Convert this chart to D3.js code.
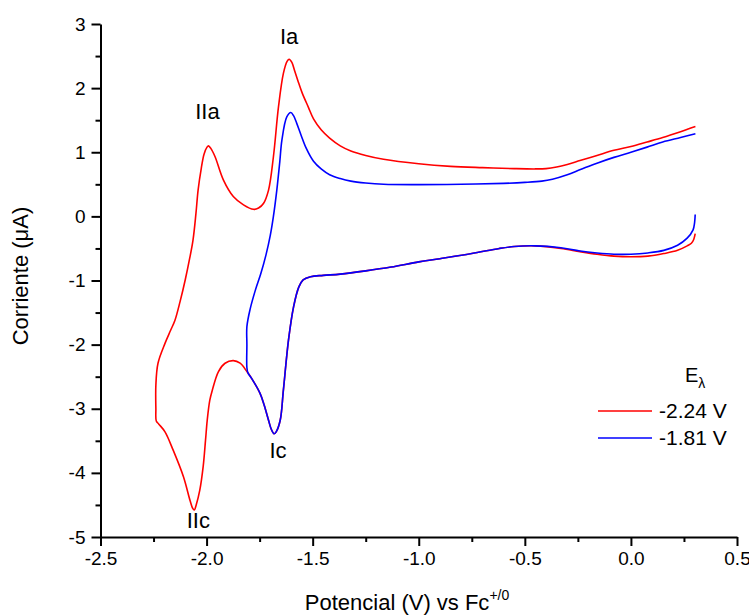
<!DOCTYPE html>
<html>
<head>
<meta charset="utf-8">
<script src="https://cdn.jsdelivr.net/npm/d3@7"></script>
<style>
  html, body { margin: 0; padding: 0; background: #fff; }
  svg { display: block; font-family: "Liberation Sans", Arial, sans-serif; }
</style>
</head>
<body>
<svg id="chart" width="749" height="615"></svg>
<script>
// Red curve, switching potential -2.24 V  [E (V vs Fc+/0), I (µA)]
const redE = [0.303,0.296,0.285,0.265,0.22,0.155,0.08,0.0,-0.08,-0.16,-0.24,-0.33,-0.45,-0.55,-0.62,-0.75,-0.9,-1.0,-1.13,-1.25,-1.37,-1.45,-1.51,-1.545,-1.565,-1.59,-1.614,-1.638,-1.653,-1.672,-1.682,-1.695,-1.708,-1.728,-1.748,-1.787,-1.81,-1.842,-1.874,-1.913,-1.944,-1.973,-1.985,-1.997,-2.005,-2.016,-2.032,-2.049,-2.058,-2.066,-2.078,-2.109,-2.157,-2.196,-2.225,-2.237,-2.239,-2.239,-2.229,-2.196,-2.17,-2.149,-2.125,-2.10,-2.08,-2.064,-2.05,-2.040,-2.025,-2.012,-1.998,-1.991,-1.98,-1.96,-1.921,-1.874,-1.826,-1.779,-1.755,-1.732,-1.708,-1.685,-1.661,-1.638,-1.62,-1.611,-1.598,-1.585,-1.57,-1.55,-1.52,-1.496,-1.46,-1.42,-1.37,-1.32,-1.25,-1.166,-1.0,-0.85,-0.7,-0.55,-0.45,-0.40,-0.35,-0.30,-0.24,-0.16,-0.08,0.0,0.076,0.15,0.234,0.304];
const redI = [-0.27,-0.36,-0.42,-0.46,-0.53,-0.58,-0.62,-0.63,-0.62,-0.59,-0.55,-0.50,-0.46,-0.47,-0.50,-0.58,-0.66,-0.71,-0.79,-0.85,-0.90,-0.92,-0.94,-0.99,-1.10,-1.41,-1.93,-2.71,-3.18,-3.36,-3.39,-3.32,-3.18,-2.95,-2.76,-2.53,-2.42,-2.29,-2.25,-2.29,-2.42,-2.71,-2.87,-3.18,-3.49,-3.90,-4.27,-4.50,-4.58,-4.55,-4.43,-4.06,-3.65,-3.36,-3.24,-3.19,-3.0,-2.63,-2.29,-1.98,-1.78,-1.62,-1.33,-0.98,-0.66,-0.37,0.05,0.41,0.75,0.97,1.08,1.10,1.06,0.93,0.57,0.31,0.18,0.11,0.13,0.20,0.41,0.93,1.71,2.23,2.42,2.45,2.40,2.27,2.12,1.93,1.70,1.52,1.35,1.22,1.10,1.02,0.95,0.89,0.82,0.78,0.76,0.745,0.74,0.745,0.77,0.81,0.87,0.95,1.03,1.09,1.16,1.23,1.32,1.40];

// Blue curve, switching potential -1.81 V
const blueE = [0.303,0.300,0.293,0.265,0.22,0.155,0.08,0.0,-0.08,-0.16,-0.24,-0.33,-0.45,-0.55,-0.62,-0.75,-0.9,-1.0,-1.13,-1.25,-1.37,-1.45,-1.51,-1.545,-1.565,-1.59,-1.614,-1.638,-1.653,-1.672,-1.682,-1.695,-1.708,-1.728,-1.748,-1.787,-1.805,-1.81,-1.81,-1.81,-1.795,-1.77,-1.745,-1.72,-1.70,-1.685,-1.669,-1.655,-1.645,-1.622,-1.603,-1.59,-1.575,-1.555,-1.53,-1.496,-1.46,-1.42,-1.37,-1.32,-1.25,-1.166,-1.0,-0.8,-0.6,-0.5,-0.42,-0.37,-0.30,-0.238,-0.16,-0.08,0.0,0.076,0.15,0.234,0.304];
const blueI = [0.03,-0.10,-0.21,-0.34,-0.45,-0.53,-0.57,-0.59,-0.59,-0.57,-0.54,-0.49,-0.46,-0.47,-0.50,-0.58,-0.66,-0.71,-0.79,-0.85,-0.90,-0.92,-0.94,-0.99,-1.10,-1.41,-1.93,-2.71,-3.18,-3.36,-3.39,-3.32,-3.18,-2.95,-2.76,-2.53,-2.44,-2.36,-2.0,-1.72,-1.45,-1.15,-0.90,-0.60,-0.30,0.0,0.41,0.85,1.19,1.55,1.62,1.57,1.45,1.27,1.06,0.86,0.74,0.65,0.59,0.55,0.52,0.50,0.495,0.50,0.515,0.53,0.55,0.58,0.65,0.73,0.83,0.92,1.0,1.08,1.16,1.23,1.29];

const xTicks = [-2.5,-2.0,-1.5,-1.0,-0.5,0.0,0.5];
const xMinor = [-2.25,-1.75,-1.25,-0.75,-0.25,0.25];
const yTicks = [-5,-4,-3,-2,-1,0,1,2,3];
const yMinor = [-4.5,-3.5,-2.5,-1.5,-0.5,0.5,1.5,2.5];

const peakLabels = ["Ia","IIa","Ic","IIc"];
const peakE = [-1.611,-1.991,-1.682,-2.058];
const peakI = [2.45,1.10,-3.39,-4.58];

const seriesNames = ["-2.24 V","-1.81 V"];
const seriesColors = ["#ff0000","#0000ff"];

const svg = d3.select("#chart");
const font = '"Liberation Sans", Arial, sans-serif';

const x = d3.scaleLinear().domain([-2.5, 0.5]).range([100.5, 737]);
const y = d3.scaleLinear().domain([-5, 3]).range([537, 24]);

const fmtX = d => d3.format(".1f")(d).replace("\u2212", "-");
const fmtY = d => d3.format("d")(d).replace("\u2212", "-");

// minor ticks
svg.append("g").attr("transform", `translate(0,${y(-5)})`)
  .call(d3.axisBottom(x).tickValues(xMinor).tickSize(5).tickFormat(""))
  .call(g => g.select(".domain").remove())
  .call(g => g.selectAll("line").attr("stroke", "#000").attr("stroke-width", 2));
svg.append("g").attr("transform", `translate(${x(-2.5)},0)`)
  .call(d3.axisLeft(y).tickValues(yMinor).tickSize(5).tickFormat(""))
  .call(g => g.select(".domain").remove())
  .call(g => g.selectAll("line").attr("stroke", "#000").attr("stroke-width", 2));

// major axes
const gx = svg.append("g").attr("transform", `translate(0,${y(-5)})`)
  .call(d3.axisBottom(x).tickValues(xTicks).tickSize(9).tickSizeOuter(0).tickPadding(6).tickFormat(fmtX));
gx.select(".domain").attr("stroke", "#000").attr("stroke-width", 2);
gx.selectAll("line").attr("stroke", "#000").attr("stroke-width", 2);
gx.selectAll("text").attr("font-family", font).attr("font-size", 19).attr("fill", "#000");

const gy = svg.append("g").attr("transform", `translate(${x(-2.5)},0)`)
  .call(d3.axisLeft(y).tickValues(yTicks).tickSize(9).tickSizeOuter(0).tickPadding(6).tickFormat(fmtY));
gy.select(".domain").attr("stroke", "#000").attr("stroke-width", 2);
gy.selectAll("line").attr("stroke", "#000").attr("stroke-width", 2);
gy.selectAll("text").attr("font-family", font).attr("font-size", 19).attr("fill", "#000");

// curves
const line = d3.line().x(d => x(d[0])).y(d => y(d[1])).curve(d3.curveCatmullRom.alpha(0.5));
const redData = redE.map((e, i) => [e, redI[i]]);
const blueData = blueE.map((e, i) => [e, blueI[i]]);
[redData, blueData].forEach((data, k) => {
  svg.append("path").datum(data)
    .attr("d", line)
    .attr("fill", "none")
    .attr("stroke", seriesColors[k])
    .attr("stroke-width", 1.6)
    .attr("stroke-linejoin", "round");
});

// peak labels
const labelOffsets = [[0,-15],[-1,-27],[4,24],[4,18]];
peakLabels.forEach((t, i) => {
  svg.append("text")
    .attr("x", x(peakE[i]) + labelOffsets[i][0])
    .attr("y", y(peakI[i]) + labelOffsets[i][1])
    .attr("text-anchor", "middle")
    .attr("font-family", font).attr("font-size", 22).attr("fill", "#000")
    .text(t);
});

// axis titles
svg.append("text")
  .attr("transform", "translate(28,276) rotate(-90)")
  .attr("text-anchor", "middle")
  .attr("font-family", font).attr("font-size", 22).attr("fill", "#000")
  .text("Corriente (\u03bcA)");

const xt = svg.append("text")
  .attr("x", 407).attr("y", 610)
  .attr("text-anchor", "middle")
  .attr("font-family", font).attr("font-size", 22).attr("fill", "#000");
xt.append("tspan").text("Potencial (V) vs Fc");
xt.append("tspan").attr("dy", -10).attr("font-size", 14).text("+/0");

// legend
const lg = svg.append("g");
const et = lg.append("text").attr("x", 685).attr("y", 382)
  .attr("font-family", font).attr("font-size", 20).attr("fill", "#000");
et.append("tspan").text("E");
et.append("tspan").attr("dy", 6).attr("font-size", 14).text("\u03bb");

seriesNames.forEach((s, i) => {
  const yy = 411 + i * 27;
  lg.append("line").attr("x1", 598).attr("x2", 652).attr("y1", yy).attr("y2", yy)
    .attr("stroke", seriesColors[i]).attr("stroke-width", 1.6);
  lg.append("text").attr("x", 659).attr("y", yy).attr("dy", "0.35em")
    .attr("font-family", font).attr("font-size", 21).attr("fill", "#000")
    .text(s);
});
</script>
</body>
</html>
